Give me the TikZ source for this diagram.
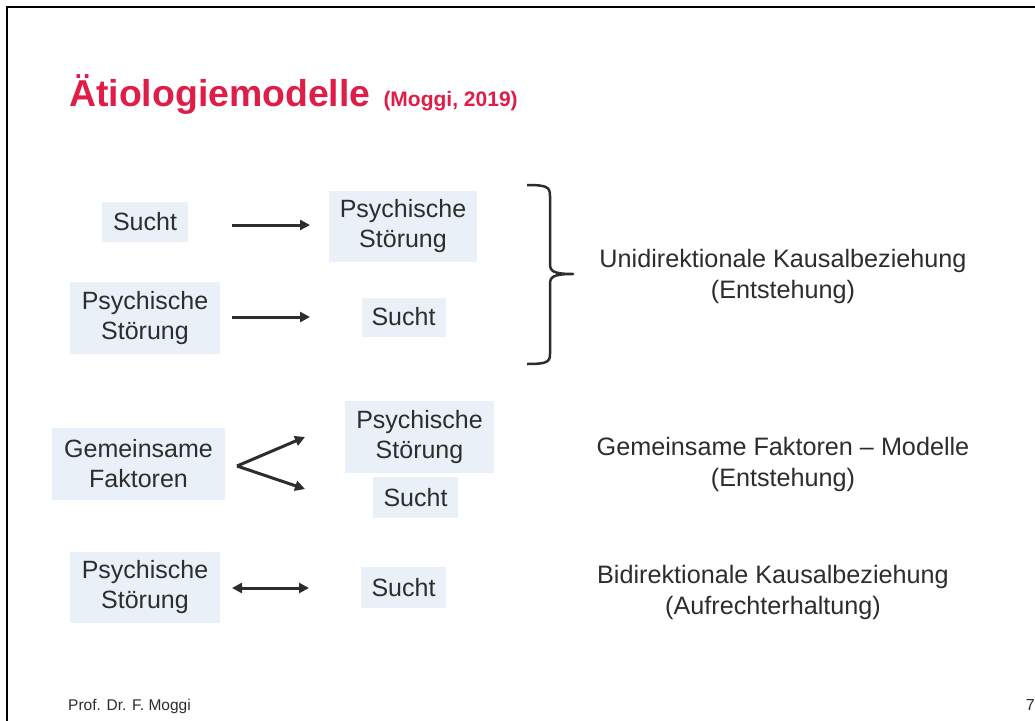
\documentclass[tikz,border=0pt]{standalone}
\usepackage{fontspec}
\setmainfont{Liberation Sans}
\usetikzlibrary{arrows.meta}
\definecolor{titlered}{RGB}{222,30,72}
\definecolor{boxfill}{RGB}{233,240,247}
\definecolor{ink}{RGB}{45,45,45}
\tikzset{
  box/.style={fill=boxfill, text=ink, align=center, inner sep=0pt,
    font=\fontsize{25}{30}\selectfont},
  lbl/.style={text=ink, align=center, inner sep=0pt,
    font=\fontsize{25.2}{31}\selectfont},
  arr/.style={draw=ink, line width=3pt, -{Triangle[length=10pt,width=10pt]}},
  darr/.style={draw=ink, line width=3pt, {Triangle[length=10pt,width=10pt]}-{Triangle[length=10pt,width=10pt]}},
  bracestyle/.style={draw=ink, line width=2.5pt, line join=round}
}
\begin{document}
\begin{tikzpicture}[x=1pt,y=-1pt]
\useasboundingbox (0,0) rectangle (1035,720);
\fill[white] (0,0) rectangle (1035,720);
% slide frame
\draw[line width=2.2pt, black] (7,722) -- (7,7) -- (1037,7);

% title
\node[anchor=base west, inner sep=0pt, text=titlered] (title) at (69,106.7)
  {{\fontsize{37.4}{40}\selectfont\bfseries Ätiologiemodelle}\hspace{13pt}{\fontsize{21}{24}\selectfont\bfseries (Moggi, 2019)}};

% row 1
\node[box, minimum width=86pt, minimum height=40pt] (s1) at (145,222) {Sucht};
\node[box, minimum width=148pt, minimum height=71pt] (p1) at (403,226.5) {Psychische\\Störung};
\coordinate (a1s) at (232,225);
\coordinate (a1e) at (310,225);
\draw[arr] (a1s) -- (a1e);

% row 2
\node[box, minimum width=150pt, minimum height=72pt] (p2) at (145,318) {Psychische\\Störung};
\node[box, minimum width=84pt, minimum height=39pt] (s2) at (403.5,317) {Sucht};
\coordinate (a2s) at (232,317);
\coordinate (a2e) at (310,317);
\draw[arr] (a2s) -- (a2e);

% brace
\coordinate (bt) at (527,185);
\coordinate (bm) at (573,274);
\coordinate (bb) at (527,364);
\draw[bracestyle] (bt) .. controls (547,185) and (550,187) .. (550,196) -- (550,264)
  .. controls (550,271) and (553,274) .. (bm)
  .. controls (553,274) and (550,277) .. (550,284) -- (550,354)
  .. controls (550,362) and (547,364) .. (bb);
\node[lbl] (t1) at (783,276.5) {Unidirektionale Kausalbeziehung\\(Entstehung)};

% row 3
\node[box, minimum width=173pt, minimum height=72pt] (g) at (138.5,464) {Gemeinsame\\Faktoren};
\node[box, minimum width=149pt, minimum height=72pt] (p3) at (419.5,437) {Psychische\\Störung};
\node[box, minimum width=85pt, minimum height=41pt] (s3) at (415.5,497.5) {Sucht};
\coordinate (ga) at (237,466);
\coordinate (gu) at (305,437);
\coordinate (gl) at (305,489);
\draw[arr] (ga) -- (gu);
\draw[arr] (ga) -- (gl);
\node[lbl] (t2) at (783,464.5) {Gemeinsame Faktoren – Modelle\\(Entstehung)};

% row 4
\node[box, minimum width=150pt, minimum height=71pt] (p4) at (145,587.5) {Psychische\\Störung};
\node[box, minimum width=85pt, minimum height=41pt] (s4) at (403.5,587.5) {Sucht};
\coordinate (a4s) at (232,588);
\coordinate (a4e) at (309,588);
\draw[darr] (a4s) -- (a4e);
\node[lbl] (t3) at (773,592.5) {Bidirektionale Kausalbeziehung\\(Aufrechterhaltung)};

% footer
\node[anchor=base west, inner sep=0pt, text=ink, font=\fontsize{15.5}{19}\selectfont] (foot) at (68,710) {Prof. Dr. F. Moggi};
\node[anchor=base east, inner sep=0pt, text=ink, font=\fontsize{16}{19}\selectfont] (pg) at (1035,710) {7};
\end{tikzpicture}
\end{document}
